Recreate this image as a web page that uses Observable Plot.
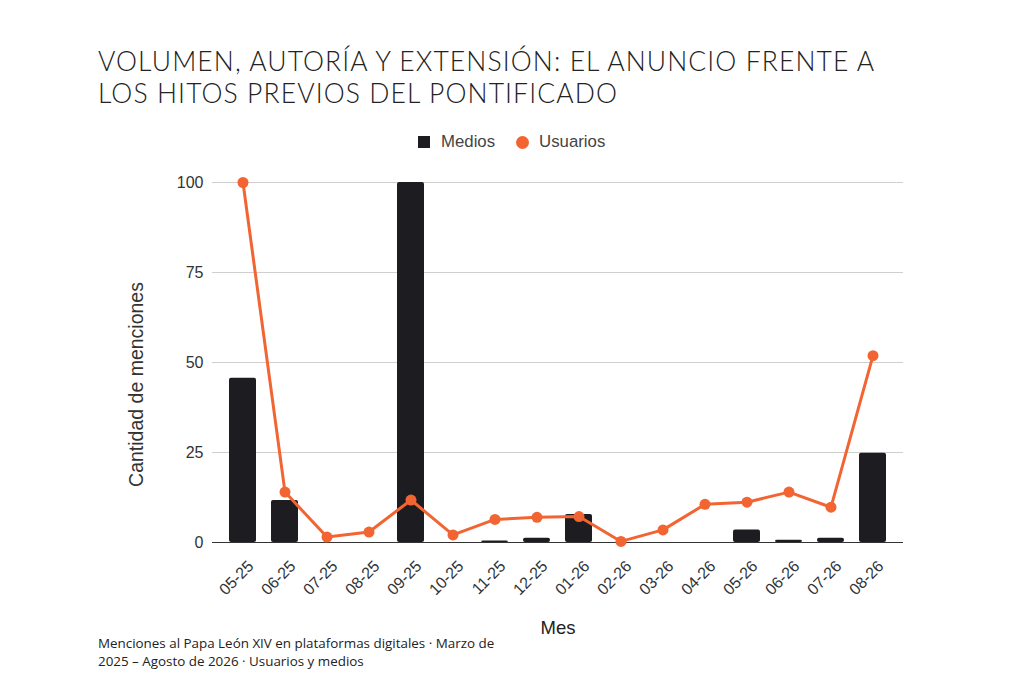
<!DOCTYPE html>
<html>
<head>
<meta charset="utf-8">
<script src="https://cdn.jsdelivr.net/npm/d3@7"></script>
<script src="https://cdn.jsdelivr.net/npm/@observablehq/plot@0.6"></script>
<style>
  html, body { margin: 0; padding: 0; background: #fff; }
  #wrap { position: relative; width: 1024px; height: 677px; overflow: hidden; }
  #chart { position: absolute; left: 0; top: 0; }
  .title { position: absolute; left: 98px; top: 45px; font-family: Lato, sans-serif; font-weight: 300; font-size: 26.5px; line-height: 32px; letter-spacing: 1.1px; color: #222; white-space: nowrap; }
  .legend { position: absolute; top: 132px; left: 418px; height: 20px; font-family: "Liberation Sans", Arial, sans-serif; font-size: 16.8px; color: #444; display: flex; align-items: center; }
  .legend .sq { width: 12px; height: 12px; background: #1d1c21; display: inline-block; margin-right: 11px; }
  .legend .dot { width: 13px; height: 13px; border-radius: 50%; background: #f26532; display: inline-block; margin-left: 21px; margin-right: 10px; }
  .caption { position: absolute; left: 98px; top: 634px; font-family: "Open Sans", sans-serif; font-size: 13.4px; line-height: 18px; color: #222; width: 402px; }
</style>
</head>
<body>
<div id="wrap">
  <div id="chart"></div>
  <div class="title">VOLUMEN, AUTORÍA Y EXTENSIÓN: EL ANUNCIO FRENTE A<br>LOS HITOS PREVIOS DEL PONTIFICADO</div>
  <div class="legend"><span class="sq"></span><span>Medios</span><span class="dot"></span><span>Usuarios</span></div>
  <div class="caption">Menciones al Papa León XIV en plataformas digitales · Marzo de 2025 – Agosto de 2026 · Usuarios y medios</div>
</div>
<script>
const months = ["05-25","06-25","07-25","08-25","09-25","10-25","11-25","12-25","01-26","02-26","03-26","04-26","05-26","06-26","07-26","08-26"];
const medios = [45.6, 11.7, 0, 0, 100, 0, 0.4, 1.2, 7.8, 0, 0, 0, 3.5, 0.6, 1.2, 24.8];
const usuarios = [100, 14.0, 1.5, 2.9, 11.8, 2.1, 6.4, 7.0, 7.2, 0.3, 3.5, 10.6, 11.2, 14.0, 9.8, 51.9];
const yTicks = [0, 25, 50, 75, 100];

const rows = months.map((m, i) => ({month: m, medios: medios[i], usuarios: usuarios[i]}));

const chart = Plot.plot({
  width: 1024,
  height: 677,
  marginTop: 182,
  marginBottom: 135,
  marginLeft: 212,
  marginRight: 121,
  style: {fontFamily: "'Liberation Sans', Arial, sans-serif", fontSize: "16px", color: "#444", background: "transparent"},
  x: {domain: months, padding: 0.36, label: null},
  y: {domain: [0, 100], ticks: yTicks, label: null},
  marks: [
    Plot.gridY(yTicks, {stroke: "#cfcfcf", strokeOpacity: 1, strokeWidth: 1}),
    Plot.barY(rows, {x: "month", y: "medios", fill: "#1d1c21", rx: 2}),
    Plot.ruleY([0], {stroke: "#333", strokeWidth: 1}),
    Plot.line(rows, {x: "month", y: "usuarios", stroke: "#f26532", strokeWidth: 3}),
    Plot.dot(rows, {x: "month", y: "usuarios", fill: "#f26532", r: 5.5}),
    Plot.axisY({ticks: yTicks, tickSize: 0, tickPadding: 9, fontSize: 16, fill: "#333"}),
    Plot.axisX({tickSize: 0, tickRotate: -45, tickPadding: 6, dx: 8, dy: 15, fontSize: 16, fill: "#333"}),
    Plot.text(["Cantidad de menciones"], {frameAnchor: "left", textAnchor: "middle", dx: -76, dy: 22, rotate: -90, fontSize: 19.5, fill: "#333", text: d => d}),
    Plot.text(["Mes"], {frameAnchor: "bottom", textAnchor: "middle", dy: 91, fontSize: 18.5, fill: "#222", text: d => d})
  ]
});
document.getElementById("chart").appendChild(chart);
</script>
</body>
</html>
